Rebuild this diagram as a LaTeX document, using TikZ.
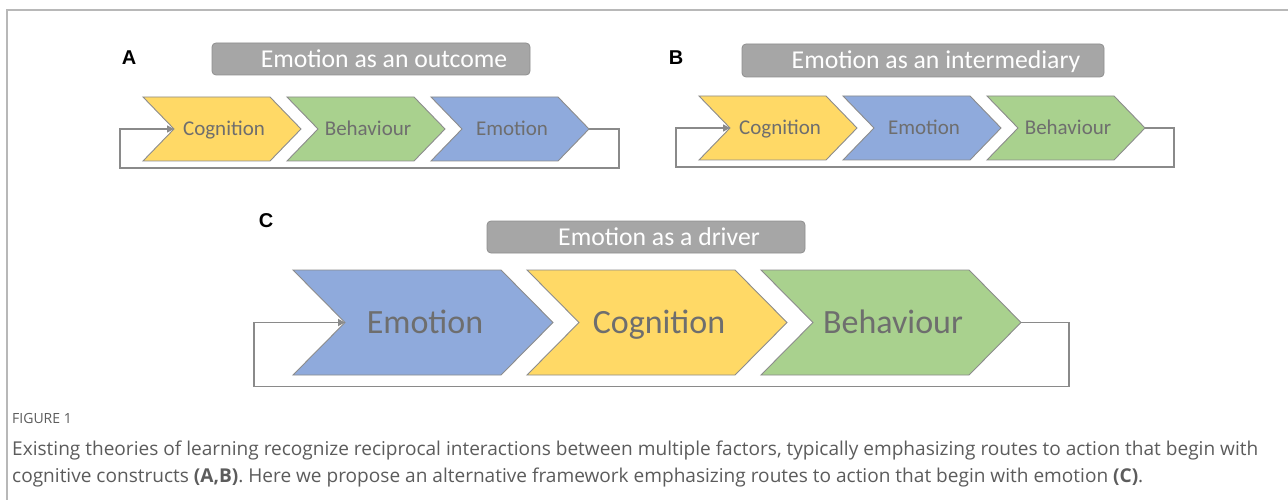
\documentclass[tikz,border=0pt]{standalone}
\usepackage{graphicx}
\usepackage{fontspec}
\setmainfont{Carlito}
\newfontfamily\capfont{Open Sans}
\newfontfamily\labfont{Liberation Sans}
\usetikzlibrary{calc,arrows.meta}
\definecolor{cyel}{HTML}{FFD966}
\definecolor{cgrn}{HTML}{A9D18E}
\definecolor{cblu}{HTML}{8FAADC}
\definecolor{cedge}{HTML}{8C8C8C}
\definecolor{ctxt}{HTML}{6E6E6E}
\definecolor{ctbox}{HTML}{A6A6A6}
\definecolor{ctboxe}{HTML}{8F8F8F}
\definecolor{cfb}{HTML}{8A8A8A}
\definecolor{cframe}{HTML}{B8B8B8}
\definecolor{ccap}{HTML}{5C5C5C}
\tikzset{
  chevshape/.style={draw=cedge, line width=0.9pt, line join=miter},
  chevtext/.style={text=ctxt, inner sep=0pt, anchor=base},
  tbox/.style={draw=ctboxe, fill=ctbox, rounded corners=4pt, line width=0.8pt, text=white, inner sep=0pt, text height=16.5pt, text depth=0pt, font=\fontsize{25.7}{26}\selectfont},
  fb/.style={draw=cfb, line width=1.6pt},
  fbtip/.style={-{Triangle[length=7pt,width=7pt]}},
  panlab/.style={font=\labfont\bfseries\fontsize{20}{20}\selectfont, text=black, inner sep=0pt}
}
% #1 name #2 left #3 top #4 width #5 height #6 depth #7 fill #8 fontsize #9 text
\newcommand\chevron[9]{%
  \path[chevshape, fill=#7] (#2,#3) -- ++(#4-#6,0) -- ++(#6,#5/2) -- ++(-#6,#5/2) -- ++(-#4+#6,0) -- ++(#6,-#5/2) -- cycle;
  \coordinate (#1-tip) at (#2+#4,#3+#5/2);
  \coordinate (#1-notch) at (#2+#6,#3+#5/2);
  \node[chevtext, font=\fontsize{#8}{#8}\selectfont] (#1) at (#2+#4/2+2,#3+#5/2+0.322*#8) {#9};
}
\begin{document}
\begin{tikzpicture}[x=1pt,y=-1pt]
\useasboundingbox (0,0) rectangle (1288,500);
\fill[white] (0,0) rectangle (1288,500);
% frame
\draw[draw=cframe, line width=1.5pt] (7,500) -- (7,10) -- (1288,10);

% Panel A
\node[panlab] (la) at (129,58) {A};
\node[tbox, minimum width=318pt, minimum height=32pt] (ta) at (371,59) {\hspace*{26pt}Emotion as an outcome};
\chevron{a1}{143}{97}{158}{64}{31}{cyel}{21}{Cognition}
\chevron{a2}{287}{97}{158}{64}{31}{cgrn}{21}{Behaviour}
\chevron{a3}{431}{97}{158}{64}{31}{cblu}{21}{Emotion}
\draw[fb, fbtip, line width=1.4pt] (a3-tip) -| ++(30,39) -| ($(a1-notch)+(-54,0)$) -- (a1-notch);

% Panel B
\node[panlab] (lb) at (676,58) {B};
\node[tbox, minimum width=362pt, minimum height=33pt] (tb) at (923,60.5) {\hspace*{26pt}Emotion as an intermediary};
\chevron{b1}{699}{96}{158}{64}{31}{cyel}{21}{Cognition}
\chevron{b2}{843}{96}{158}{64}{31}{cblu}{21}{Emotion}
\chevron{b3}{987}{96}{158}{64}{31}{cgrn}{21}{Behaviour}
\draw[fb, fbtip, line width=1.4pt] (b3-tip) -| ++(29,39) -| ($(b1-notch)+(-54,0)$) -- (b1-notch);

% Panel C
\node[panlab] (lc) at (266,221) {C};
\node[tbox, minimum width=318pt, minimum height=32pt] (tc) at (646,237) {\hspace*{26pt}Emotion as a driver};
\chevron{c1}{293}{270}{260}{105}{52}{cblu}{34}{Emotion}
\chevron{c2}{527}{270}{260}{105}{52}{cyel}{34}{Cognition}
\chevron{c3}{761}{270}{260}{105}{52}{cgrn}{34}{Behaviour}
\draw[fb, fbtip, line width=1.8pt] (c3-tip) -| ++(48,64) -| ($(c1-notch)+(-91,0)$) -- (c1-notch);

% Caption
\node[anchor=west, inner sep=0pt, text=ccap] (fig) at (12,418) {\capfont\fontsize{14}{14}\selectfont FIGURE 1};
\node[anchor=north west, inner sep=0pt, text=ccap] (cap) at (12,436) {\resizebox{1246pt}{!}{\capfont\fontsize{16}{23}\selectfont\begin{tabular}{@{}l@{}}Existing theories of learning recognize reciprocal interactions between multiple factors, typically emphasizing routes to action that begin with\\cognitive constructs {\bfseries(A,B)}. Here we propose an alternative framework emphasizing routes to action that begin with emotion {\bfseries(C)}.\end{tabular}}};
\end{tikzpicture}
\end{document}
